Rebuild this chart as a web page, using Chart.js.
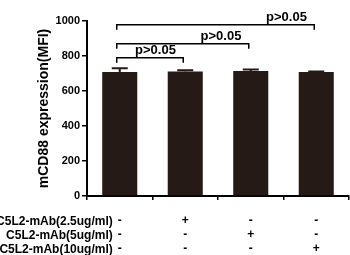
<!DOCTYPE html>
<html>
<head>
<meta charset="utf-8">
<script src="https://cdn.jsdelivr.net/npm/chart.js@4"></script>
<style>
  html, body { margin: 0; padding: 0; background: #fff; }
  #wrap { width: 350px; height: 255px; }
</style>
</head>
<body>
<div id="wrap"><canvas id="chart" width="350" height="255"></canvas></div>
<script>
// values
const groups = ['ctrl', '2.5', '5', '10'];
const rowNames = ['C5L2-mAb(2.5ug/ml)', 'C5L2-mAb(5ug/ml)', 'C5L2-mAb(10ug/ml)'];
const rowMarks = [
  ['-', '+', '-', '-'],
  ['-', '-', '+', '-'],
  ['-', '-', '-', '+']
];
const means = [708, 712, 714, 708];
const errors = [22, 6, 9, 4];
const yMin = 0, yMax = 1000, yStep = 200;
const comparisons = [[0, 1], [0, 2], [0, 3]];
const pLabels = ['p>0.05', 'p>0.05', 'p>0.05'];
const bracketLevels = [790, 870, 978];

const ink = '#000';
const barColor = '#261a17';
const fontFam = '"Liberation Sans", Arial, sans-serif';

// multi-line category labels: one +/- per row
const xLabels = groups.map((g, i) => rowMarks.map(r => r[i]));

const errorBars = {
  id: 'errorBars',
  afterDatasetsDraw(chart) {
    const ctx = chart.ctx;
    const y = chart.scales.y;
    const meta = chart.getDatasetMeta(0);
    ctx.save();
    ctx.strokeStyle = barColor;
    ctx.lineWidth = 2;
    meta.data.forEach((bar, i) => {
      const top = y.getPixelForValue(means[i] + errors[i]);
      ctx.beginPath();
      ctx.moveTo(bar.x, bar.y);
      ctx.lineTo(bar.x, top);
      ctx.moveTo(bar.x - 8, top);
      ctx.lineTo(bar.x + 8, top);
      ctx.stroke();
    });
    ctx.restore();
  }
};

const brackets = {
  id: 'brackets',
  afterDraw(chart) {
    const ctx = chart.ctx;
    const x = chart.scales.x;
    const y = chart.scales.y;
    ctx.save();
    ctx.strokeStyle = ink;
    ctx.lineWidth = 1.5;
    ctx.fillStyle = ink;
    ctx.font = 'bold 13px ' + fontFam;
    ctx.textAlign = 'center';
    ctx.textBaseline = 'alphabetic';
    comparisons.forEach((c, k) => {
      const x1 = x.getPixelForValue(c[0]) - 3;
      const x2 = x.getPixelForValue(c[1]) - 2;
      const yy = y.getPixelForValue(bracketLevels[k]);
      const drop = 5;
      ctx.beginPath();
      ctx.moveTo(x1, yy + drop);
      ctx.lineTo(x1, yy);
      ctx.lineTo(x2, yy);
      ctx.lineTo(x2, yy + drop);
      ctx.stroke();
      const tx = (x.getPixelForValue(c[1] - 1) + x.getPixelForValue(c[1])) / 2 + 3;
      ctx.fillText(pLabels[k], tx, yy - 4);
    });
    ctx.restore();
  }
};

const rowLabels = {
  id: 'rowLabels',
  afterDraw(chart) {
    const ctx = chart.ctx;
    const x = chart.scales.x;
    ctx.save();
    ctx.fillStyle = ink;
    ctx.font = 'bold 12px ' + fontFam;
    ctx.textAlign = 'right';
    ctx.textBaseline = 'middle';
    rowNames.forEach((name, i) => {
      ctx.fillText(name, x.getPixelForValue(0) - 7, x.top + 26 + i * 14);
    });
    ctx.restore();
  }
};

new Chart(document.getElementById('chart'), {
  type: 'bar',
  data: {
    labels: xLabels,
    datasets: [{
      data: means,
      backgroundColor: barColor,
      borderWidth: 0,
      barPercentage: 0.535,
      categoryPercentage: 1
    }]
  },
  options: {
    responsive: false,
    animation: false,
    layout: { padding: { left: 0, right: 1, top: 21, bottom: 0 } },
    plugins: {
      legend: { display: false },
      tooltip: { enabled: false }
    },
    scales: {
      x: {
        offset: true,
        grid: { display: true, drawOnChartArea: false, drawTicks: true, tickLength: 4, color: ink, lineWidth: 1.5 },
        border: { display: true, color: ink, width: 2 },
        ticks: {
          color: ink,
          padding: 14,
          maxRotation: 0,
          autoSkip: false,
          font: { family: fontFam, size: 12, weight: 'bold', lineHeight: 14 / 12 }
        },
        afterFit(scale) { scale.height = 59; }
      },
      y: {
        min: yMin,
        max: yMax,
        grid: { display: true, drawOnChartArea: false, drawTicks: true, tickLength: 5, color: ink, lineWidth: 1.5 },
        border: { display: true, color: ink, width: 2 },
        ticks: {
          stepSize: yStep,
          color: ink,
          padding: 2,
          callback: (v) => String(v),
          font: { family: fontFam, size: 11, weight: 'bold' }
        },
        title: {
          display: true,
          text: 'mCD88 expression(MFI)',
          color: ink,
          padding: { top: 36, bottom: 0 },
          font: { family: fontFam, size: 14, weight: 'bold' }
        },
        afterFit(scale) { scale.width = 87; }
      }
    }
  },
  plugins: [errorBars, brackets, rowLabels]
});
</script>
</body>
</html>
